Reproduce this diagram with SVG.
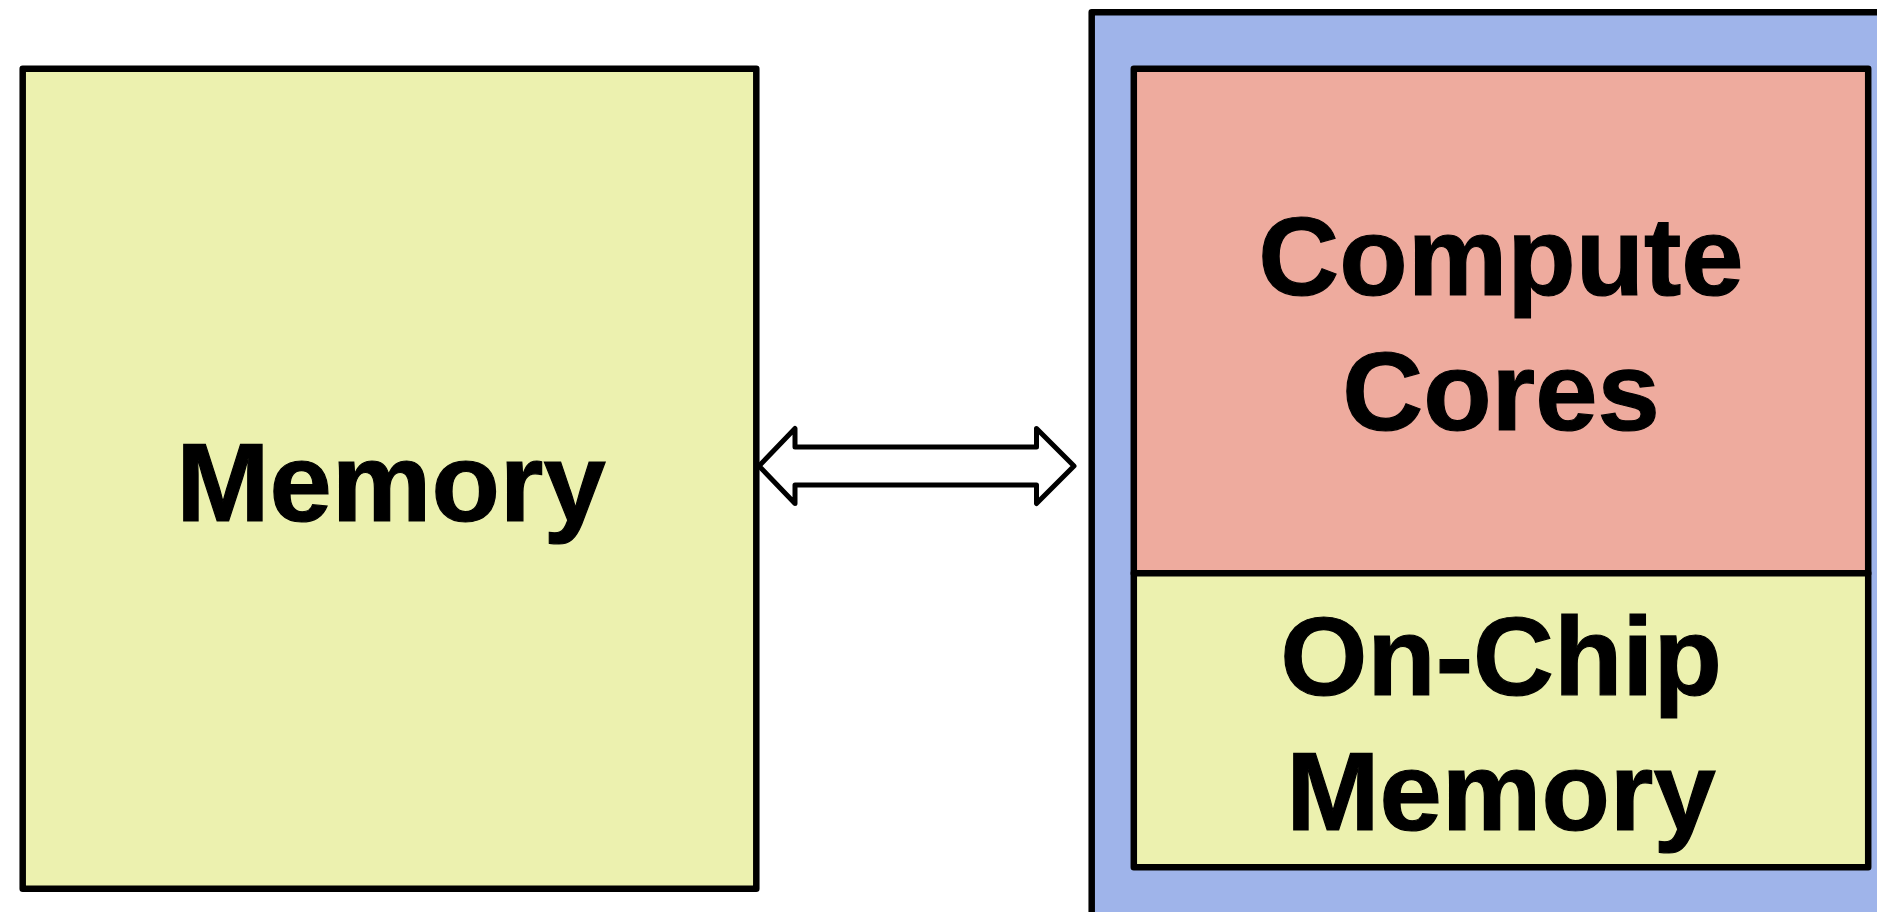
<svg xmlns="http://www.w3.org/2000/svg" width="1877" height="912" viewBox="0 0 1877 912">
  <style>
    .box { stroke: #000; stroke-width: 6.5; stroke-linejoin: round; }
    .mem { fill: #ecf1af; }
    .core { fill: #eeab9e; }
    .chip { fill: #9fb4ea; }
    .lbl { font-family: "Liberation Sans", Arial, sans-serif; font-weight: bold; font-size: 112px; fill: #000; stroke: #000; stroke-width: 1.2; text-anchor: middle; }
    .link { fill: #fff; stroke: #000; stroke-width: 5; stroke-linejoin: round; }
  </style>
  <rect width="1877" height="912" fill="#fff"/>

  <!-- off-chip memory -->
  <g id="memory">
    <rect class="box mem" x="22.7" y="68.8" width="733.6" height="819.9"/>
    <text class="lbl" x="391" y="521">Memory</text>
  </g>

  <!-- chip package -->
  <g id="chip">
    <rect class="box chip" x="1091.7" y="12.2" width="800" height="920"/>
  </g>

  <g id="compute-cores">
    <rect class="box core" x="1133.8" y="68.8" width="734.4" height="504.5"/>
    <text class="lbl" x="1501" y="295">Compute</text>
    <text class="lbl" x="1501" y="430">Cores</text>
  </g>

  <g id="on-chip-memory">
    <rect class="box mem" x="1133.8" y="573.3" width="734.4" height="293.9"/>
    <text class="lbl" x="1501" y="695">On-Chip</text>
    <text class="lbl" x="1501" y="830">Memory</text>
  </g>

  <!-- bidirectional link -->
  <g id="connectors">
    <path class="link" d="M759 466 L795 428.5 L795 447 L1036.5 447 L1036.5 428.5 L1074 466 L1036.5 503.5 L1036.5 485 L795 485 L795 503.5 Z"/>
  </g>
</svg>
